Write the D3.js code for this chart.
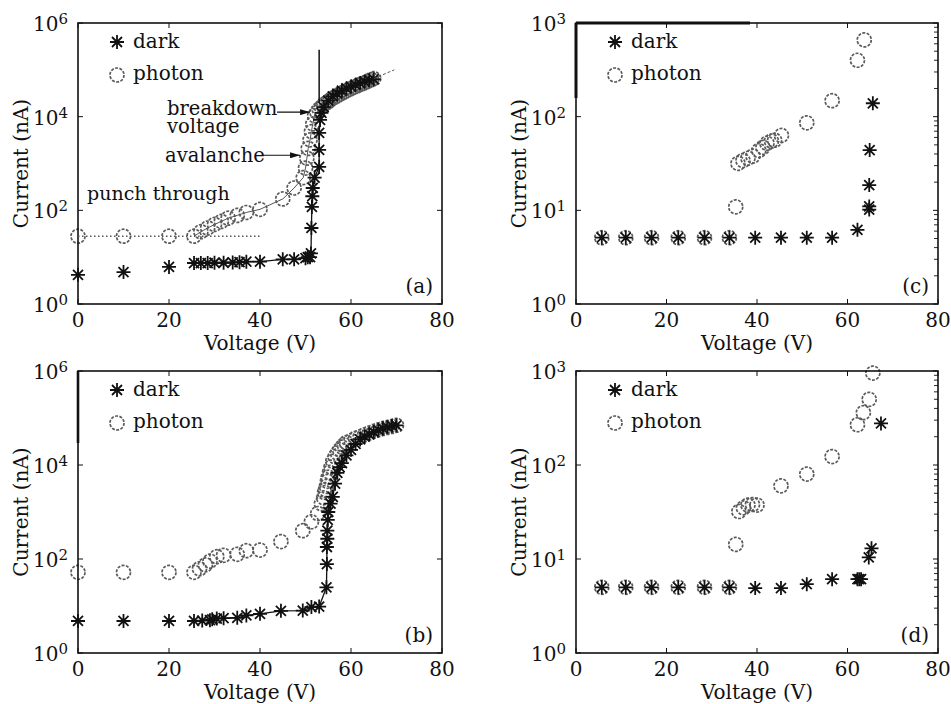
<!DOCTYPE html>
<html>
<head>
<meta charset="utf-8">
<script src="https://cdn.jsdelivr.net/npm/d3@7"></script>
<style>
  body { margin: 0; background: #fff; }
</style>
</head>
<body>
<svg id="chart" width="951" height="704" font-family="DejaVu Serif" fill="#111"></svg>
<script>
// ---- data (voltage in V, current in nA) ----
const xTicks = [0, 20, 40, 60, 80];

// (a)
const aDarkV = [0, 10, 20, 25.5, 27, 28.5, 30, 32, 34, 35.5, 37, 40, 45, 47.5, 50, 50.5, 51, 51.2, 51.3, 51.4, 51.5, 51.6, 52, 53, 53, 53, 53.2, 53.5, 54, 55, 56, 57, 58, 59, 60, 61, 62, 63, 64, 65];
const aDarkI = [4.2, 4.8, 6.2, 7.5, 7.5, 7.5, 7.6, 7.6, 7.7, 7.8, 8, 8, 9, 9, 9.5, 10, 10, 12, 42, 118, 200, 300, 500, 850, 1950, 4500, 8500, 12000, 16000, 22000, 27000, 31000, 36000, 40000, 44000, 48000, 52000, 56000, 60000, 63000];
const aPhotonV = [0, 10, 20, 25.5, 27, 28.5, 30, 31.5, 33, 35, 37, 40, 45, 47.5, 49.5, 50, 50.3, 50.6, 51, 51.3, 51.6, 52, 52.5, 53, 53.5, 54, 54.5, 55, 55.5, 56, 56.5, 57, 57.5, 58, 58.5, 59, 59.5, 60, 60.5, 61, 61.5, 62, 62.5, 63, 63.5, 64, 64.5, 65];
const aPhotonI = [28, 28, 28, 28, 35, 42, 50, 58, 68, 78, 90, 105, 175, 300, 500, 800, 1300, 2100, 3200, 4800, 7000, 10500, 12500, 14500, 16000, 18000, 19500, 21000, 23000, 25000, 26500, 28000, 30000, 32000, 34000, 36000, 38000, 40000, 42000, 44000, 46500, 48500, 51000, 53000, 56000, 59000, 62000, 65000];
const aDottedV = [0, 40];
const aDottedI = [28, 28];
const aFitV = [65, 69.5];
const aFitI = [65000, 100000];
const aSpikeV = [53, 53];
const aSpikeI = [20000, 270000];

// (b)
const bDarkV = [0, 10, 20, 25.5, 27.3, 29, 29.5, 30.5, 32, 35, 37, 40, 44.6, 49.4, 51.3, 53, 54.6, 54.7, 54.7, 54.8, 54.8, 54.9, 55, 55.5, 56, 56.5, 57, 57.5, 58, 59, 60, 61, 62, 63, 64, 65, 66, 67, 68, 69, 70];
const bDarkI = [4.8, 4.8, 4.8, 4.8, 4.9, 5, 5.2, 5.4, 5.5, 5.6, 6.3, 6.8, 7.9, 8, 9.5, 9.7, 25, 78, 180, 270, 400, 680, 1000, 1500, 2100, 4000, 6800, 9000, 11000, 16000, 21000, 28000, 35000, 40000, 45000, 50000, 55000, 60000, 64000, 68000, 70000];
const bPhotonV = [0, 10, 20, 25.5, 26.7, 28, 29, 30.5, 32, 35, 37, 40, 44.6, 49.4, 51.3, 52.7, 53.5, 54, 54.2, 54.4, 54.6, 54.8, 55, 55.3, 55.6, 56, 56.5, 57, 57.5, 58, 58.5, 59, 60, 61, 62, 63, 64, 65, 66, 67, 68, 69, 70];
const bPhotonI = [52, 52, 52, 52, 62, 75, 90, 112, 120, 126, 150, 155, 235, 400, 620, 930, 1500, 2000, 2600, 3000, 3500, 4500, 5500, 7000, 9000, 12000, 15000, 18000, 21000, 24000, 27000, 30000, 33000, 37000, 40000, 44000, 48000, 52000, 56000, 60000, 63000, 66000, 70000];

// (c)
const cDarkV = [5.7, 11, 16.7, 22.6, 28.4, 33.9, 39.6, 45.3, 51, 56.6, 62.2, 64.8, 64.8, 64.8, 64.9, 65.6];
const cDarkI = [5.1, 5.1, 5.1, 5.1, 5.1, 5.1, 5.1, 5.1, 5.1, 5.1, 6.2, 10.2, 11, 18.6, 44, 139];
const cPhotonV = [5.7, 11, 16.7, 22.6, 28.4, 33.9, 35.3, 35.8, 36.9, 38, 39.1, 40.4, 41.3, 42.2, 43.2, 43.9, 45.4, 51, 56.6, 62.2, 63.7];
const cPhotonI = [5.1, 5.1, 5.1, 5.1, 5.1, 5.1, 10.9, 31.7, 34, 36, 38, 43.5, 47, 52, 55, 56, 63, 86, 148, 400, 660];

// (d)
const dDarkV = [5.7, 11, 16.7, 22.6, 28.4, 33.9, 39.6, 45.3, 51, 56.6, 62.2, 62.6, 63, 64.7, 65.3, 67.4];
const dDarkI = [5, 5, 5, 5, 5, 5, 4.9, 4.9, 5.4, 6.1, 6.1, 6.1, 6.1, 10.4, 13, 277];
const dPhotonV = [5.7, 11, 16.7, 22.6, 28.4, 33.9, 35.3, 36, 37, 38, 39, 40, 45.3, 51, 56.6, 62.2, 63.5, 64.8, 65.6];
const dPhotonI = [5, 5, 5, 5, 5, 5, 14.3, 32, 35, 37.5, 38, 37.5, 60, 80, 123, 268, 360, 500, 950];

const FONT = "DejaVu Serif";
const zip = (vs, is) => vs.map((v, i) => ({ v, i: is[i] }));

const panels = [
  { id: "(a)", left: 78, right: 442, top: 23, bottom: 304, yMax: 1e6, yLabels: [1, 1e2, 1e4, 1e6],
    dark: zip(aDarkV, aDarkI), photon: zip(aPhotonV, aPhotonI), darkLine: true, photonLine: true },
  { id: "(b)", left: 78, right: 442, top: 371, bottom: 653, yMax: 1e6, yLabels: [1, 1e2, 1e4, 1e6],
    dark: zip(bDarkV, bDarkI), photon: zip(bPhotonV, bPhotonI), darkLine: true },
  { id: "(c)", left: 576, right: 938, top: 23, bottom: 304, yMax: 1e3, yLabels: [1, 10, 100, 1000],
    dark: zip(cDarkV, cDarkI), photon: zip(cPhotonV, cPhotonI), minor: true },
  { id: "(d)", left: 576, right: 938, top: 371, bottom: 653, yMax: 1e3, yLabels: [1, 10, 100, 1000],
    dark: zip(dDarkV, dDarkI), photon: zip(dPhotonV, dPhotonI), minor: true }
];

const svg = d3.select("#chart");

const defs = svg.append("defs");
defs.append("marker").attr("id", "arrow")
  .attr("viewBox", "0 0 10 6").attr("refX", 10).attr("refY", 3)
  .attr("markerWidth", 10).attr("markerHeight", 6).attr("markerUnits", "userSpaceOnUse")
  .attr("orient", "auto")
  .append("path").attr("d", "M0,0 L10,3 L0,6 Z").attr("fill", "#111");

const starPath = "M-7,0H7M0,-7V7M-5,-5L5,5M-5,5L5,-5";

function drawStar(g, x, y) {
  g.append("path").attr("d", starPath).attr("transform", `translate(${x},${y})`)
    .attr("stroke", "#111").attr("stroke-width", 1.8).attr("fill", "none");
}
function drawCircle(g, x, y) {
  g.append("circle").attr("cx", x).attr("cy", y).attr("r", 7)
    .attr("fill", "none").attr("stroke", "#5a5a5a").attr("stroke-width", 1.7)
    .attr("stroke-dasharray", "3,1.4");
}

function drawPanel(p) {
  const g = svg.append("g");
  const x = d3.scaleLinear().domain([0, 80]).range([p.left, p.right]);
  const y = d3.scaleLog().domain([1, p.yMax]).range([p.bottom, p.top]);
  p.x = x; p.y = y;

  // ticks (inward)
  xTicks.forEach(t => {
    g.append("line").attr("x1", x(t)).attr("x2", x(t)).attr("y1", p.bottom).attr("y2", p.bottom - 5).attr("stroke", "#111");
    g.append("line").attr("x1", x(t)).attr("x2", x(t)).attr("y1", p.top).attr("y2", p.top + 5).attr("stroke", "#111");
    g.append("text").attr("x", x(t)).attr("y", p.bottom + 23).attr("text-anchor", "middle")
      .attr("font-size", 20).text(t);
  });
  p.yLabels.forEach(t => {
    g.append("line").attr("x1", p.left).attr("x2", p.left + 5).attr("y1", y(t)).attr("y2", y(t)).attr("stroke", "#111");
    g.append("line").attr("x1", p.right).attr("x2", p.right - 5).attr("y1", y(t)).attr("y2", y(t)).attr("stroke", "#111");
    const txt = g.append("text").attr("x", p.left - 10).attr("y", y(t) + 8)
      .attr("text-anchor", "end").attr("font-size", 20);
    txt.append("tspan").text("10");
    txt.append("tspan").attr("dy", -7).attr("font-size", 15).text(Math.round(Math.log10(t)));
  });
  if (p.minor) {
    y.ticks().filter(t => !p.yLabels.includes(t)).forEach(t => {
      g.append("line").attr("x1", p.right).attr("x2", p.right - 4).attr("y1", y(t)).attr("y2", y(t))
        .attr("stroke", "#111").attr("stroke-width", 0.9);
    });
  }

  // axis labels
  g.append("text").attr("x", (p.left + p.right) / 2).attr("y", p.bottom + 46)
    .attr("text-anchor", "middle").attr("font-size", 20).text("Voltage (V)");
  g.append("text").attr("transform", `translate(${p.left - 50},${(p.top + p.bottom) / 2}) rotate(-90)`)
    .attr("text-anchor", "middle").attr("font-size", 20).text("Current (nA)");

  // lines
  const line = d3.line().x(d => x(d.v)).y(d => y(d.i));
  if (p.photonLine) {
    g.append("path").datum(p.photon.filter(d => d.v >= 25)).attr("d", line)
      .attr("fill", "none").attr("stroke", "#555").attr("stroke-width", 1);
  }
  if (p.darkLine) {
    g.append("path").datum(p.dark.filter(d => d.v >= 25)).attr("d", line)
      .attr("fill", "none").attr("stroke", "#111").attr("stroke-width", 1.3);
  }

  // markers
  p.photon.forEach(d => drawCircle(g, x(d.v), y(d.i)));
  p.dark.forEach(d => drawStar(g, x(d.v), y(d.i)));

  // frame
  g.append("rect").attr("x", p.left).attr("y", p.top)
    .attr("width", p.right - p.left).attr("height", p.bottom - p.top)
    .attr("fill", "none").attr("stroke", "#111").attr("stroke-width", 1.6);

  // legend
  const lx = p.left + 39, ly = p.top + 19;
  drawStar(g, lx, ly);
  drawCircle(g, lx, ly + 33);
  g.append("text").attr("x", lx + 16).attr("y", ly + 6).attr("font-size", 20).text("dark");
  g.append("text").attr("x", lx + 16).attr("y", ly + 38).attr("font-size", 20).text("photon");

  // panel tag
  g.append("text").attr("x", p.right - 9).attr("y", p.bottom - 11).attr("text-anchor", "end")
    .attr("font-size", 20).text(p.id);
  return g;
}

panels.forEach(drawPanel);

// extra marks of panel (a)
const pa = panels[0];
const ga = svg.append("g");
const lineA = d3.line().x(d => pa.x(d.v)).y(d => pa.y(d.i));
ga.append("path").datum(zip(aDottedV, aDottedI)).attr("d", lineA)
  .attr("fill", "none").attr("stroke", "#555").attr("stroke-width", 1.3).attr("stroke-dasharray", "1.5,2.5");
ga.append("path").datum(zip(aFitV, aFitI)).attr("d", lineA)
  .attr("fill", "none").attr("stroke", "#555").attr("stroke-width", 1).attr("stroke-dasharray", "3,2");
ga.append("path").datum(zip(aSpikeV, aSpikeI)).attr("d", lineA)
  .attr("fill", "none").attr("stroke", "#111").attr("stroke-width", 1.5);

// annotations of panel (a)
const bx = pa.x(51), by = pa.y(12500);
ga.append("text").attr("x", bx - 143).attr("y", by + 3).attr("font-size", 19.5).text("breakdown");
ga.append("text").attr("x", bx - 143).attr("y", by + 21).attr("font-size", 19.5).text("voltage");
ga.append("line").attr("x1", bx - 33).attr("x2", bx).attr("y1", by).attr("y2", by)
  .attr("stroke", "#111").attr("stroke-width", 1.2).attr("marker-end", "url(#arrow)");
const avx = pa.x(48.8), avy = pa.y(1500);
ga.append("text").attr("x", avx - 135).attr("y", avy + 7).attr("font-size", 19.5).text("avalanche");
ga.append("line").attr("x1", avx - 37).attr("x2", avx).attr("y1", avy).attr("y2", avy)
  .attr("stroke", "#111").attr("stroke-width", 1.2).attr("marker-end", "url(#arrow)");
ga.append("text").attr("x", pa.x(2)).attr("y", pa.y(166)).attr("font-size", 19).text("punch through");

// heavier frame pieces seen in (b) and (c)
const pb = panels[1], pc = panels[2];
svg.append("line").attr("x1", pc.left).attr("x2", pc.left + 174).attr("y1", pc.top).attr("y2", pc.top)
  .attr("stroke", "#111").attr("stroke-width", 3);
svg.append("line").attr("x1", pc.left).attr("x2", pc.left).attr("y1", pc.top).attr("y2", pc.top + 75)
  .attr("stroke", "#111").attr("stroke-width", 3);
svg.append("line").attr("x1", pb.left).attr("x2", pb.left).attr("y1", pb.top).attr("y2", pb.top + 72)
  .attr("stroke", "#111").attr("stroke-width", 2.6);

// serif face on every label
svg.selectAll("text").attr("font-family", FONT);
</script>
</body>
</html>
